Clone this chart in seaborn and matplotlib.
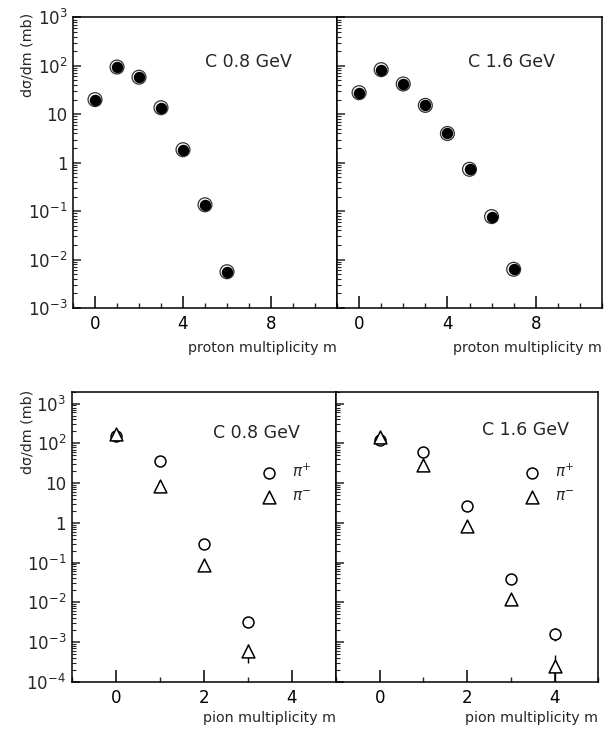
import numpy as np
import pandas as pd
import matplotlib
matplotlib.use("Agg")
import matplotlib.pyplot as plt
import matplotlib.ticker as mticker
import seaborn as sns

# ---------------- data ----------------
m_p08 = [0, 1, 2, 3, 4, 5, 6]
xs_p08 = [20, 94, 58, 13.6, 1.85, 0.135, 0.0056]
m_p16 = [0, 1, 2, 3, 4, 5, 6, 7]
xs_p16 = [27.8, 83, 42, 15.2, 4.0, 0.73, 0.077, 0.0063]

m_pi08 = [0, 1, 2, 3]
pip_08 = [150, 37, 0.29, 0.0032]
pim_08 = [175, 8.3, 0.087, 0.0006]
m_pi16 = [0, 1, 2, 3, 4]
pip_16 = [120, 59, 2.7, 0.039, 0.0016]
pim_16 = [141, 28, 0.81, 0.012, 0.00025]

# error bars (lower, upper bounds) for the lowest points
err_pim08_m = [3]
err_pim08_lo = [0.0003]
err_pim08_hi = [0.0009]
err_pim16_m = [4]
err_pim16_lo = [0.00001]
err_pim16_hi = [0.00047]
err_pip16_m = [4]
err_pip16_lo = [0.00105]
err_pip16_hi = [0.0022]

labels_top = ["C 0.8 GeV", "C 1.6 GeV"]
ylab = "dσ/dm (mb)"
xlab_top = "proton multiplicity m"
xlab_bot = "pion multiplicity m"
legend_labels = [r"$\pi^{+}$", r"$\pi^{-}$"]

sns.set_style("white")
plt.rcParams["font.family"] = ["DejaVu Sans"]
plt.rcParams["mathtext.fontset"] = "dejavusans"

W, H = 610, 737
fig = plt.figure(figsize=(W / 100, H / 100), dpi=100)


def px_axes(l, t, r, b):
    return fig.add_axes([l / W, 1 - b / H, (r - l) / W, (b - t) / H])


ax_tl = px_axes(73, 17.3, 337, 308)
ax_tr = px_axes(337, 17.3, 602, 308)
ax_bl = px_axes(71.7, 391.7, 336, 681.7)
ax_br = px_axes(336, 391.7, 598.3, 681.7)


def ylabfmt(v, pos):
    e = int(round(np.log10(v)))
    if e == 0:
        return "1"
    if e == 1:
        return "10"
    return r"$10^{%d}$" % e


def style_axes(ax, xlim, ylim, xmaj, showy):
    ax.set_yscale("log")
    ax.set_xlim(*xlim)
    ax.set_ylim(*ylim)
    for s in ax.spines.values():
        s.set_visible(True)
        s.set_color("black")
        s.set_linewidth(1.1)
    ax.xaxis.set_major_locator(mticker.MultipleLocator(xmaj))
    ax.xaxis.set_minor_locator(mticker.MultipleLocator(1))
    ax.yaxis.set_major_locator(mticker.LogLocator(base=10, numticks=20))
    ax.yaxis.set_minor_locator(mticker.LogLocator(base=10, subs=np.arange(2, 10), numticks=20))
    ax.yaxis.set_major_formatter(mticker.FuncFormatter(ylabfmt))
    ax.yaxis.set_minor_formatter(mticker.NullFormatter())
    ax.tick_params(axis="x", which="major", direction="in", length=8.5, width=1.1,
                   bottom=True, top=False, labelsize=12, pad=5, colors="black")
    ax.tick_params(axis="x", which="minor", direction="in", length=3.6, width=1.0,
                   bottom=True, top=False)
    ax.tick_params(axis="y", which="major", direction="in", length=6, width=1.1,
                   left=True, right=False, labelsize=12, pad=4, labelleft=showy)
    ax.tick_params(axis="y", which="minor", direction="in", length=3, width=0.8,
                   left=True, right=False)
    ax.set_xlabel("")
    ax.set_ylabel("")
    ax.grid(False)


# ---------------- top panels: protons ----------------
for ax, m, xs, lab, showy in [(ax_tl, m_p08, xs_p08, labels_top[0], True),
                              (ax_tr, m_p16, xs_p16, labels_top[1], False)]:
    df = pd.DataFrame({"m": m, "xs": xs})
    sns.scatterplot(data=df, x="m", y="xs", ax=ax, marker="o", s=100,
                    color="black", facecolor="none", edgecolor="#333333",
                    linewidth=0.9, zorder=3)
    sns.scatterplot(data=df, x="m", y="xs", ax=ax, marker="o", s=68,
                    color="black", edgecolor="black", linewidth=0, zorder=4)
    style_axes(ax, (-1, 11), (1e-3, 1e3), 4, showy)
    ax.text(0.5 if showy else 0.494, 0.847, lab, transform=ax.transAxes,
            ha="left", va="center", fontsize=12.5)
    ax.text(1.0, -0.138, xlab_top, transform=ax.transAxes, ha="right",
            va="center", fontsize=10.3)

ax_tl.text(-0.174, 1.015, ylab, transform=ax_tl.transAxes, rotation=90,
           ha="center", va="top", fontsize=10.3)

# ---------------- bottom panels: pions ----------------
panels = [
    (ax_bl, m_pi08, pip_08, pim_08, labels_top[0], True, 0.535, 0.858,
     (err_pim08_m, pim_08, err_pim08_lo, err_pim08_hi), None),
    (ax_br, m_pi16, pip_16, pim_16, labels_top[1], False, 0.555, 0.868,
     (err_pim16_m, pim_16, err_pim16_lo, err_pim16_hi),
     (err_pip16_m, pip_16, err_pip16_lo, err_pip16_hi)),
]
for ax, m, pp, pm, lab, showy, tx, ty, errm, errp in panels:
    dfp = pd.DataFrame({"m": m, "xs": pp})
    dfm = pd.DataFrame({"m": m, "xs": pm})
    for e in [errm, errp]:
        if e is None:
            continue
        em, vals, lo, hi = e
        yv = [vals[m.index(k)] for k in em]
        ax.errorbar(em, yv,
                    yerr=[np.array(yv) - np.array(lo), np.array(hi) - np.array(yv)],
                    fmt="none", ecolor="black", elinewidth=1.0, capsize=0, zorder=1)
    sns.scatterplot(data=dfp, x="m", y="xs", ax=ax, marker="o", s=62,
                    color="black", facecolor="white", edgecolor="black",
                    linewidth=1.1, zorder=3, label=legend_labels[0])
    sns.scatterplot(data=dfm, x="m", y="xs", ax=ax, marker="^", s=85,
                    color="black", facecolor="white", edgecolor="black",
                    linewidth=1.1, zorder=3, label=legend_labels[1])
    style_axes(ax, (-1, 5), (1e-4, 2e3), 2, showy)
    ax.text(tx, ty, lab, transform=ax.transAxes, ha="left", va="center",
            fontsize=12.5)
    ax.text(1.0, -0.126, xlab_bot, transform=ax.transAxes, ha="right",
            va="center", fontsize=10.3)
    ax.legend(loc="upper left", bbox_to_anchor=(0.718, 0.754), frameon=False,
              borderpad=0, borderaxespad=0, handlelength=1.0, handletextpad=1.0,
              labelspacing=0.55, fontsize=11)

ax_bl.text(-0.169, 1.006, ylab, transform=ax_bl.transAxes, rotation=90,
           ha="center", va="top", fontsize=10.3)

fig.savefig("out.png", dpi=100, facecolor="white")
